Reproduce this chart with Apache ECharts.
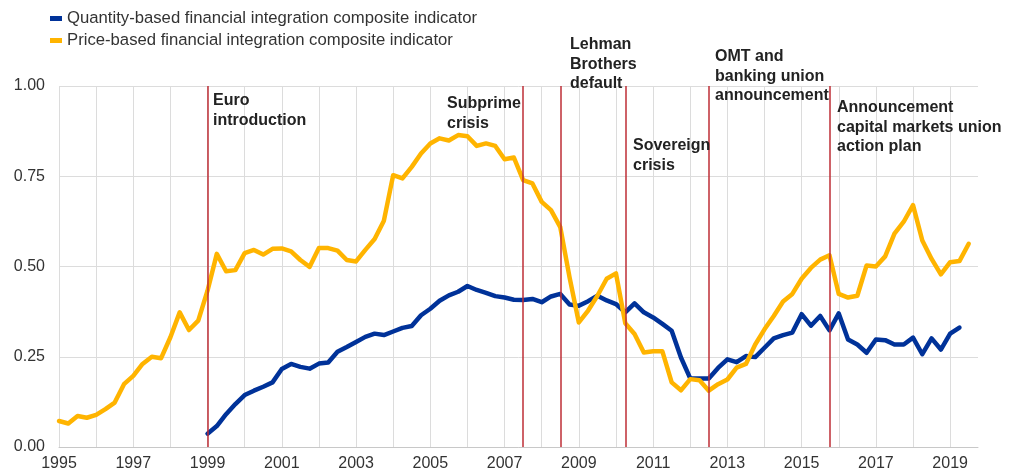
<!DOCTYPE html>
<html>
<head>
<meta charset="utf-8">
<script src="https://cdn.jsdelivr.net/npm/echarts@6/dist/echarts.min.js"></script>
<style>
  html, body { margin: 0; padding: 0; background: #ffffff; }
  #chart { width: 1013px; height: 476px; }
</style>
</head>
<body>
<div id="chart"></div>
<script>
// ---- Data (quarterly) ----
var seriesNames = [
  'Quantity-based financial integration composite indicator',
  'Price-based financial integration composite indicator'
];
var quantityStart = 1999.0;
var quantityValues = [
  0.037, 0.058, 0.091, 0.119,
  0.144, 0.156, 0.167, 0.179,
  0.216, 0.230, 0.222, 0.217,
  0.231, 0.234, 0.264, 0.277,
  0.291, 0.305, 0.314, 0.310,
  0.320, 0.330, 0.335, 0.365,
  0.383, 0.405, 0.420, 0.430,
  0.446, 0.435, 0.427, 0.418,
  0.414, 0.408, 0.407, 0.410,
  0.401, 0.417, 0.424, 0.395,
  0.391, 0.404, 0.419, 0.406,
  0.396, 0.373, 0.398, 0.373,
  0.359, 0.341, 0.322, 0.248,
  0.190, 0.190, 0.190, 0.219,
  0.243, 0.235, 0.252, 0.249,
  0.275, 0.301, 0.310, 0.317,
  0.368, 0.336, 0.363, 0.323,
  0.370, 0.298, 0.284, 0.261,
  0.298, 0.296, 0.284, 0.284,
  0.303, 0.257, 0.301, 0.270,
  0.314, 0.331
];
var priceStart = 1995.0;
var priceValues = [
  0.072, 0.065, 0.086, 0.081,
  0.089, 0.105, 0.123, 0.174,
  0.197, 0.230, 0.250, 0.246,
  0.304, 0.373, 0.324, 0.350,
  0.433, 0.535, 0.487, 0.490,
  0.537, 0.546, 0.533, 0.549,
  0.550, 0.542, 0.518, 0.499,
  0.551, 0.551, 0.544, 0.518,
  0.514, 0.546, 0.576, 0.627,
  0.753, 0.744, 0.776, 0.813,
  0.841, 0.855, 0.849, 0.864,
  0.861, 0.834, 0.841, 0.834,
  0.797, 0.802, 0.739, 0.730,
  0.679, 0.656, 0.609, 0.470,
  0.345, 0.378, 0.419, 0.466,
  0.481, 0.343, 0.313, 0.262,
  0.265, 0.265, 0.179, 0.157,
  0.188, 0.185, 0.156, 0.174,
  0.187, 0.220, 0.230, 0.284,
  0.326, 0.363, 0.403, 0.424,
  0.466, 0.496, 0.519, 0.531,
  0.424, 0.414, 0.419, 0.503,
  0.500, 0.528, 0.591, 0.624,
  0.670, 0.572, 0.521, 0.478,
  0.512, 0.515, 0.563
];
// Event dates (vertical red lines) and their annotation texts
var eventDates = [1999.0, 2007.5, 2008.5, 2010.25, 2012.5, 2015.75];
var eventLabels = [
  'Euro\nintroduction',
  'Subprime\ncrisis',
  'Lehman\nBrothers\ndefault',
  'Sovereign\ncrisis',
  'OMT and\nbanking union\nannouncement',
  'Announcement\ncapital markets union\naction plan'
];
var yTicks = [0, 0.25, 0.5, 0.75, 1.0];

// ---- Build ----
function toPairs(start, vals) {
  return vals.map(function (v, i) { return [start + i * 0.25, v]; });
}
var FONT = "'Liberation Sans', Arial, sans-serif";
var BLUE = '#003299';
var YELLOW = '#FFB400';
var RED = '#BE2E36';

// annotation positions (pixels: left, top)
var annoPos = [[213, 91], [447, 94], [570, 35], [633, 136], [715, 47], [837, 98]];

var chart = echarts.init(document.getElementById('chart'), null, { renderer: 'canvas' });
chart.setOption({
  animation: false,
  backgroundColor: '#ffffff',
  textStyle: { fontFamily: FONT },
  legend: {
    data: seriesNames,
    orient: 'vertical',
    left: 45,
    top: 5,
    itemWidth: 12,
    itemHeight: 5,
    itemGap: 5,
    icon: 'rect',
    textStyle: { fontFamily: FONT, fontSize: 16.7, color: '#333333' }
  },
  grid: { left: 59, right: 35, top: 86, bottom: 29, containLabel: false },
  xAxis: {
    type: 'value',
    min: 1995,
    max: 2019.75,
    interval: 1,
    axisLine: { show: true, lineStyle: { color: '#c8c8c8', width: 1 } },
    axisTick: { show: false },
    axisLabel: {
      fontFamily: FONT, fontSize: 16, color: '#333333', margin: 9,
      showMaxLabel: false,
      formatter: function (v) {
        return (Math.abs(v - Math.round(v)) < 1e-6 && Math.round(v) % 2 === 1) ? String(Math.round(v)) : '';
      }
    },
    splitLine: { show: true, showMaxLine: false, lineStyle: { color: '#dcdcdc', width: 1 } }
  },
  yAxis: {
    type: 'value',
    min: yTicks[0],
    max: yTicks[yTicks.length - 1],
    interval: 0.25,
    axisLine: { show: false },
    axisTick: { show: false },
    axisLabel: {
      fontFamily: FONT, fontSize: 16, color: '#333333', margin: 14,
      formatter: function (v) { return v.toFixed(2); }
    },
    splitLine: { show: true, lineStyle: { color: '#dcdcdc', width: 1 } }
  },
  series: [
    {
      name: 'events',
      type: 'line',
      data: [],
      z: 1,
      silent: true,
      markLine: {
        silent: true,
        symbol: ['none', 'none'],
        label: { show: false },
        lineStyle: { color: RED, width: 1.5, type: 'solid' },
        data: eventDates.map(function (d) { return { xAxis: d }; })
      }
    },
    {
      name: seriesNames[0],
      type: 'line',
      data: toPairs(quantityStart, quantityValues),
      showSymbol: false,
      symbol: 'none',
      z: 3,
      itemStyle: { color: BLUE },
      lineStyle: { color: BLUE, width: 4.5, join: 'round', cap: 'round' }
    },
    {
      name: seriesNames[1],
      type: 'line',
      data: toPairs(priceStart, priceValues),
      showSymbol: false,
      symbol: 'none',
      z: 4,
      itemStyle: { color: YELLOW },
      lineStyle: { color: YELLOW, width: 4.5, join: 'round', cap: 'round' }
    }
  ],
  graphic: eventLabels.map(function (t, i) {
    return {
      type: 'text',
      left: annoPos[i][0],
      top: annoPos[i][1],
      z: 10,
      style: {
        text: t,
        fontFamily: FONT,
        fontSize: 16,
        fontWeight: 'bold',
        lineHeight: 19.5,
        fill: '#222222'
      }
    };
  })
});
</script>
</body>
</html>
